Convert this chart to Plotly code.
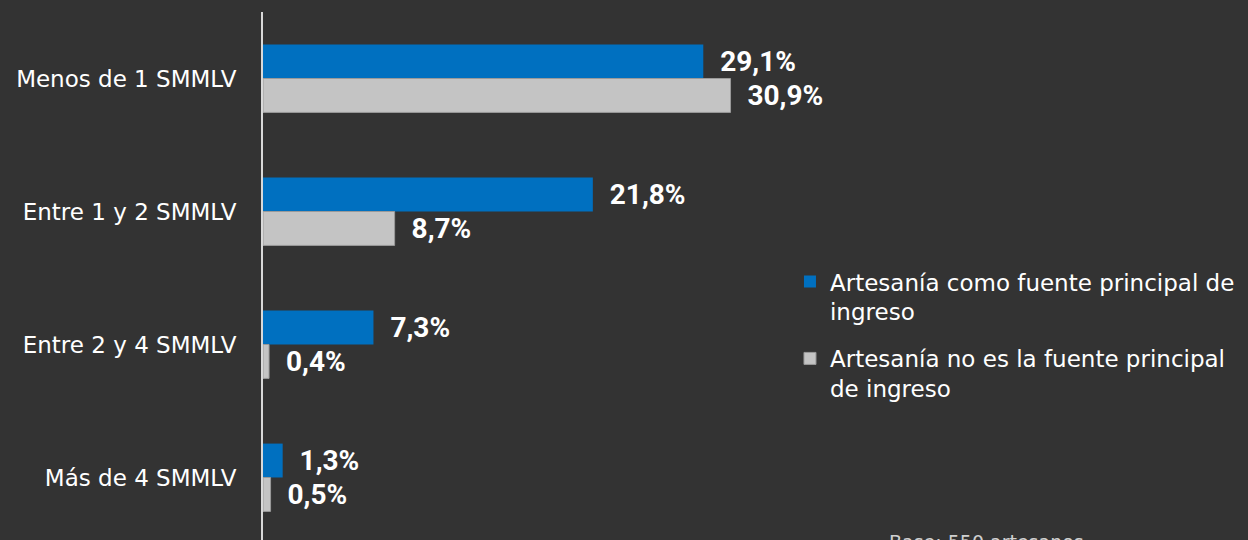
"""Ingreso mensual de artesanos según si la artesanía es su fuente principal."""

import plotly.graph_objects as go

categories = ["Menos de 1 SMMLV", "Entre 1 y 2 SMMLV", "Entre 2 y 4 SMMLV", "Más de 4 SMMLV"]
principal = [29.1, 21.8, 7.3, 1.3]
no_principal = [30.9, 8.7, 0.4, 0.5]
series_names = [
    "Artesanía como fuente principal de<br>ingreso",
    "Artesanía no es la fuente principal<br>de ingreso",
]
base_note = "Base: 550 artesanos"

BG = "#333333"
BLUE = "#0070C0"
GRAY = "#C4C4C4"
NBSP = "\u00a0"


def pct_labels(values):
    return [NBSP * 2 + f"{v:.1f}".replace(".", ",") + "%" for v in values]


label_font = dict(family="Roboto", size=28, color="white", weight="bold")
text_family = "DejaVu Sans"

fig = go.Figure()
fig.add_trace(
    go.Bar(
        y=categories,
        x=principal,
        orientation="h",
        name=series_names[0],
        legendgroup="a",
        marker=dict(color=BLUE, line=dict(width=0)),
        text=pct_labels(principal),
        textposition="outside",
        textfont=label_font,
        constraintext="none",
        cliponaxis=False,
    )
)
fig.add_trace(
    go.Bar(
        y=categories,
        x=no_principal,
        orientation="h",
        name=series_names[1],
        legendgroup="b",
        marker=dict(color=GRAY, line=dict(color="#9a9a9a", width=1)),
        text=pct_labels(no_principal),
        textposition="outside",
        textfont=label_font,
        constraintext="none",
        cliponaxis=False,
    )
)

fig.add_annotation(
    text=base_note,
    xref="paper",
    yref="paper",
    x=0.634,
    y=0.02,
    xanchor="left",
    yanchor="top",
    showarrow=False,
    font=dict(family=text_family, size=19, color="#d0d0d0"),
)

fig.update_layout(
    width=1248,
    height=540,
    paper_bgcolor=BG,
    plot_bgcolor=BG,
    margin=dict(l=263, r=0, t=12, b=0),
    barmode="group",
    bargap=0.49,
    bargroupgap=0,
    font=dict(family=text_family, color="white"),
    showlegend=True,
    legend=dict(
        x=0.535,
        y=0.53,
        xanchor="left",
        yanchor="top",
        bgcolor="rgba(0,0,0,0)",
        font=dict(family=text_family, size=23, color="white"),
        valign="top",
        tracegroupgap=14,
        traceorder="grouped",
    ),
    xaxis=dict(
        range=[0, 65.1],
        visible=False,
        fixedrange=True,
    ),
    yaxis=dict(
        categoryorder="array",
        categoryarray=categories,
        range=[3.47, -0.5],
        showline=True,
        linecolor="#d9d9d9",
        linewidth=2,
        showgrid=False,
        zeroline=False,
        ticks="outside",
        ticklen=20,
        tickcolor="rgba(0,0,0,0)",
        tickfont=dict(family=text_family, size=23, color="white"),
    ),
)

fig.write_html(
    "out.html",
    config={"displayModeBar": False},
    post_script="document.body.style.margin='0';",
)
